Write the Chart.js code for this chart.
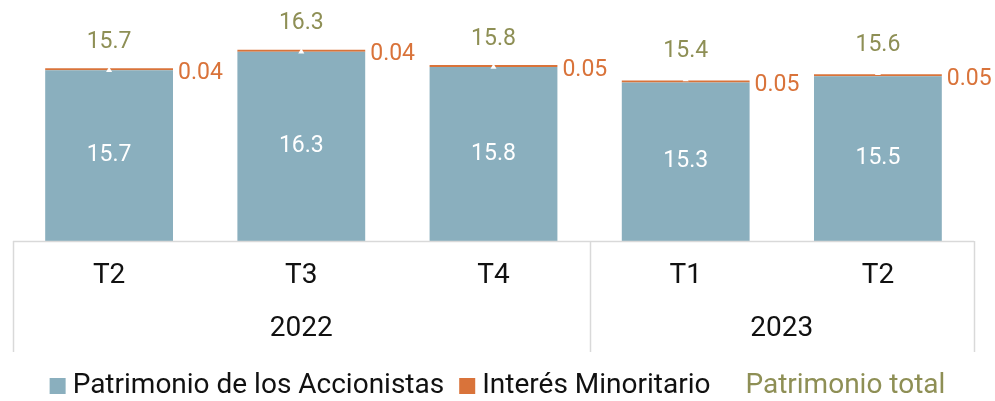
<!DOCTYPE html>
<html>
<head>
<meta charset="utf-8">
<script src="https://cdn.jsdelivr.net/npm/chart.js@4.4.1/dist/chart.umd.min.js"></script>
<style>
  html, body { margin: 0; padding: 0; background: #fff; }
  canvas { display: block; }
</style>
</head>
<body>
<canvas id="equityChart" width="995" height="401"></canvas>
<script>
// quarters and the year each one belongs to
const quarters = ["T2", "T3", "T4", "T1", "T2"];
const years = ["2022", "2023"];
const yearOfQuarter = [0, 0, 0, 1, 1];

const shareholders = [15.7, 16.3, 15.8, 15.3, 15.5];
const minority = [0.04, 0.04, 0.05, 0.05, 0.05];
const totalEquity = [15.7, 16.3, 15.8, 15.4, 15.6];

const seriesNames = ["Patrimonio de los Accionistas", "Interés Minoritario", "Patrimonio total"];

const BLUE = "#8aafbe";
const ORANGE = "#d9733a";
const OLIVE = "#8e8f55";
const GRID = "#d9d9d9";
const FONT = "Roboto, 'Liberation Sans', sans-serif";

/* ---------------- custom drawing: labels, axis, legend ---------------- */

const decorations = {
    id: "decorations",
    afterDatasetsDraw(chart) {
        const ctx = chart.ctx;
        const area = chart.chartArea;
        const x = chart.scales.x;
        const step = (area.right - area.left) / quarters.length;

        ctx.save();
        ctx.textBaseline = "middle";

        // values inside the blue bars (axis starts above zero, so use the visible bottom)
        ctx.font = "23px " + FONT;
        ctx.fillStyle = "#ffffff";
        ctx.textAlign = "center";
        chart.getDatasetMeta(0).data.forEach((el, i) => {
            ctx.fillText(shareholders[i].toFixed(1), el.x, (el.y + area.bottom) / 2);
        });

        // minority values to the right of the bar top
        ctx.fillStyle = ORANGE;
        ctx.textAlign = "left";
        chart.getDatasetMeta(1).data.forEach((el, i) => {
            ctx.fillText(minority[i].toFixed(2), el.x + el.width / 2 + 5, el.y + 5);
        });

        // totals above bars
        ctx.fillStyle = OLIVE;
        ctx.textAlign = "center";
        chart.getDatasetMeta(2).data.forEach((el, i) => {
            ctx.fillText(totalEquity[i].toFixed(1), el.x, el.y - 28);
        });

        // axis line + group separators
        ctx.strokeStyle = GRID;
        ctx.lineWidth = 1.5;
        ctx.beginPath();
        ctx.moveTo(area.left, area.bottom + 0.5);
        ctx.lineTo(area.right, area.bottom + 0.5);
        ctx.stroke();

        const sepBottom = 352;
        for (let i = 0; i <= quarters.length; i++) {
            if (i === 0 || i === quarters.length || yearOfQuarter[i] !== yearOfQuarter[i - 1]) {
                const sx = Math.round(area.left + i * step) + 0.5;
                ctx.beginPath();
                ctx.moveTo(sx, area.bottom);
                ctx.lineTo(sx, sepBottom);
                ctx.stroke();
            }
        }

        // quarter labels
        ctx.fillStyle = "#111111";
        ctx.font = "28px " + FONT;
        ctx.textAlign = "center";
        quarters.forEach((q, i) => {
            ctx.fillText(q, x.getPixelForValue(i), 276);
        });

        // year labels centred under their quarters
        years.forEach((yr, g) => {
            const idx = yearOfQuarter.map((v, i) => v === g ? i : -1).filter(i => i >= 0);
            const cx = (x.getPixelForValue(idx[0]) + x.getPixelForValue(idx[idx.length - 1])) / 2;
            ctx.fillText(yr, cx, 329);
        });

        // legend
        ctx.font = "28px " + FONT;
        const boxSize = 16, boxGap = 7, itemGap = 15, textGap = 35;
        const w0 = ctx.measureText(seriesNames[0]).width;
        const w1 = ctx.measureText(seriesNames[1]).width;
        const w2 = ctx.measureText(seriesNames[2]).width;
        const totalW = boxSize + boxGap + w0 + itemGap + boxSize + boxGap + w1 + textGap + w2;
        let lx = (chart.width - totalW) / 2;
        const ly = 386;
        ctx.textAlign = "left";

        ctx.fillStyle = BLUE;
        ctx.fillRect(lx, ly - boxSize / 2, boxSize, boxSize);
        lx += boxSize + boxGap;
        ctx.fillStyle = "#111111";
        ctx.fillText(seriesNames[0], lx, ly);
        lx += w0 + itemGap;

        ctx.fillStyle = ORANGE;
        ctx.fillRect(lx, ly - boxSize / 2, boxSize, boxSize);
        lx += boxSize + boxGap;
        ctx.fillStyle = "#111111";
        ctx.fillText(seriesNames[1], lx, ly);
        lx += w1 + textGap;

        ctx.fillStyle = OLIVE;
        ctx.fillText(seriesNames[2], lx, ly);

        ctx.restore();
    }
};

/* ---------------- chart ---------------- */

const ctx = document.getElementById("equityChart").getContext("2d");
new Chart(ctx, {
    data: {
        labels: quarters,
        datasets: [
            {
                type: "bar",
                label: seriesNames[0],
                data: shareholders,
                backgroundColor: BLUE,
                stack: "equity",
                categoryPercentage: 1,
                barPercentage: 0.665,
                order: 2
            },
            {
                type: "bar",
                label: seriesNames[1],
                data: minority,
                backgroundColor: ORANGE,
                stack: "equity",
                categoryPercentage: 1,
                barPercentage: 0.665,
                minBarLength: 2,
                order: 2
            },
            {
                type: "line",
                label: seriesNames[2],
                data: totalEquity,
                stack: "total",
                showLine: false,
                pointStyle: "triangle",
                pointRadius: 3.5,
                pointBackgroundColor: "#ffffff",
                pointBorderWidth: 0,
                order: 1
            }
        ]
    },
    options: {
        responsive: false,
        animation: false,
        devicePixelRatio: 1,
        layout: { padding: { left: 13, right: 21, top: 0, bottom: 160 } },
        plugins: {
            legend: { display: false },
            tooltip: { enabled: false }
        },
        scales: {
            x: { display: false, stacked: true },
            y: { display: false, stacked: true, min: 10.15, max: 17.85 }
        }
    },
    plugins: [decorations]
});
</script>
</body>
</html>
